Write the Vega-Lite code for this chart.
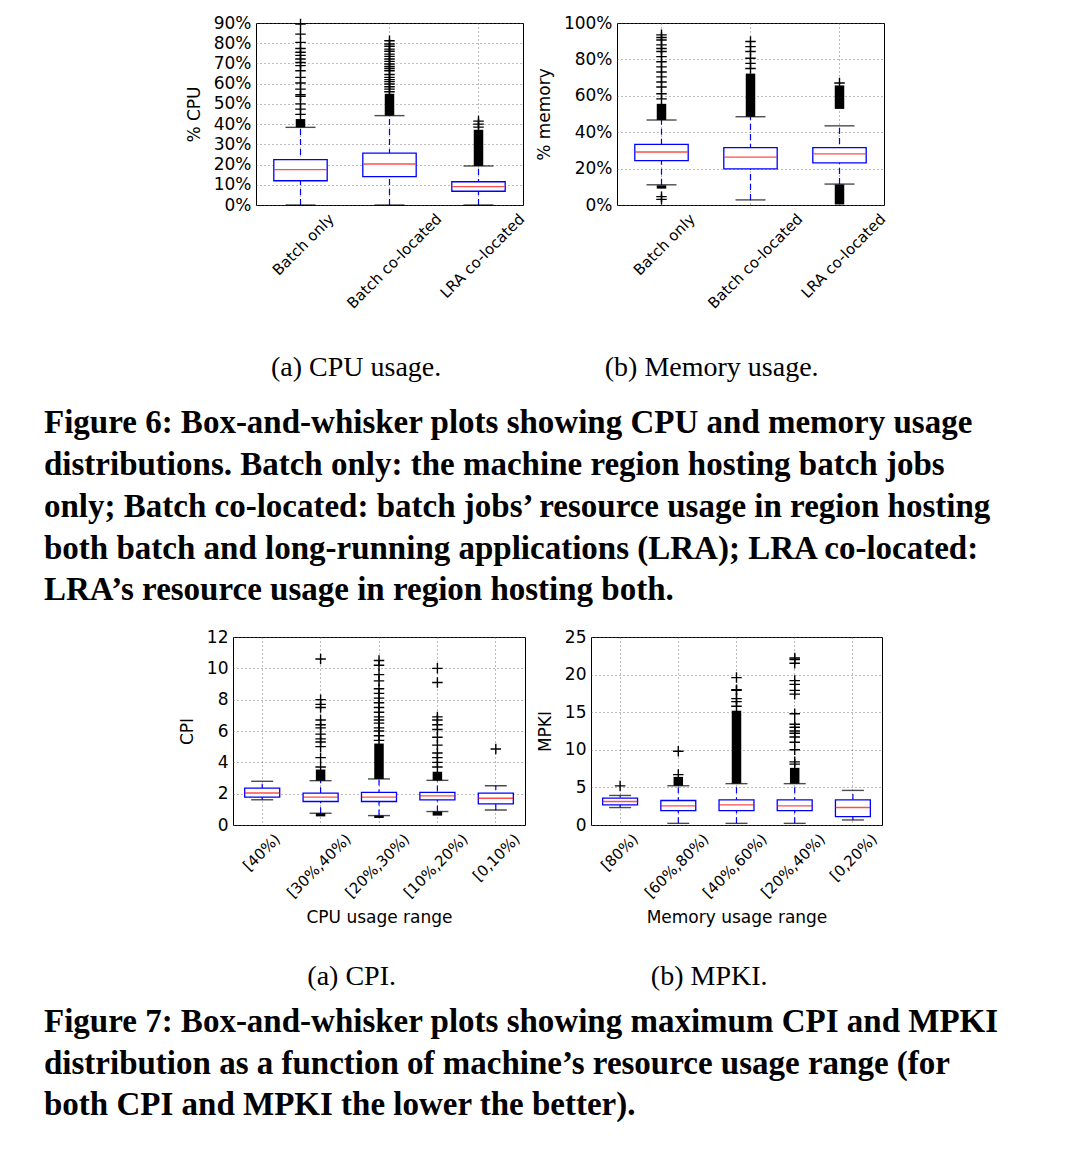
{
  "$schema": "https://vega.github.io/schema/vega-lite/v6.json",
  "background": "white",
  "padding": {"left": 44, "top": 13, "right": 8, "bottom": 10},
  "spacing": 8,
  "datasets": {
    "spacer": [{"t": ""}],
    "cpu_box": [
      {"cat": "Batch only", "lo": 0, "q1": 12.0, "med": 17.5, "q3": 22.4, "hi": 38.4},
      {"cat": "Batch co-located", "lo": 0, "q1": 14.0, "med": 20.3, "q3": 25.7, "hi": 44.2},
      {"cat": "LRA co-located", "lo": 0, "q1": 6.8, "med": 9.1, "q3": 11.5, "hi": 19.3}
    ],
    "cpu_dense": [
      {"cat": "Batch only", "a": 38.4, "b": 42.5},
      {"cat": "Batch co-located", "a": 44.2, "b": 55.0},
      {"cat": "LRA co-located", "a": 19.3, "b": 37.2}
    ],
    "cpu_out": [
      {"cat": "Batch only", "v": 44.8}, {"cat": "Batch only", "v": 47.4}, {"cat": "Batch only", "v": 50.0},
      {"cat": "Batch only", "v": 53.7}, {"cat": "Batch only", "v": 54.5}, {"cat": "Batch only", "v": 57.3},
      {"cat": "Batch only", "v": 60.3}, {"cat": "Batch only", "v": 63.1}, {"cat": "Batch only", "v": 66.4},
      {"cat": "Batch only", "v": 68.9}, {"cat": "Batch only", "v": 70.5}, {"cat": "Batch only", "v": 72.2},
      {"cat": "Batch only", "v": 74.0}, {"cat": "Batch only", "v": 75.5}, {"cat": "Batch only", "v": 77.4},
      {"cat": "Batch only", "v": 80.4}, {"cat": "Batch only", "v": 84.5}, {"cat": "Batch only", "v": 89.5},
      {"cat": "Batch co-located", "v": 56.0}, {"cat": "Batch co-located", "v": 57.3}, {"cat": "Batch co-located", "v": 58.5},
      {"cat": "Batch co-located", "v": 59.8}, {"cat": "Batch co-located", "v": 61.0}, {"cat": "Batch co-located", "v": 62.0},
      {"cat": "Batch co-located", "v": 63.1}, {"cat": "Batch co-located", "v": 64.5}, {"cat": "Batch co-located", "v": 66.4},
      {"cat": "Batch co-located", "v": 67.5}, {"cat": "Batch co-located", "v": 68.5}, {"cat": "Batch co-located", "v": 69.7},
      {"cat": "Batch co-located", "v": 71.0}, {"cat": "Batch co-located", "v": 72.2}, {"cat": "Batch co-located", "v": 73.5},
      {"cat": "Batch co-located", "v": 74.6}, {"cat": "Batch co-located", "v": 76.0}, {"cat": "Batch co-located", "v": 77.1},
      {"cat": "Batch co-located", "v": 78.5}, {"cat": "Batch co-located", "v": 79.6}, {"cat": "Batch co-located", "v": 81.2},
      {"cat": "LRA co-located", "v": 38.5}, {"cat": "LRA co-located", "v": 40.0}, {"cat": "LRA co-located", "v": 41.5}
    ],
    "mem_box": [
      {"cat": "Batch only", "lo": 11.1, "q1": 24.4, "med": 29.1, "q3": 33.3, "hi": 46.7},
      {"cat": "Batch co-located", "lo": 2.8, "q1": 19.8, "med": 26.3, "q3": 31.5, "hi": 48.5},
      {"cat": "LRA co-located", "lo": 11.5, "q1": 23.1, "med": 28.1, "q3": 31.5, "hi": 43.5}
    ],
    "mem_dense": [
      {"cat": "Batch only", "a": 46.7, "b": 55.6},
      {"cat": "Batch only", "a": 9.0, "b": 10.8},
      {"cat": "Batch co-located", "a": 48.5, "b": 72.2},
      {"cat": "LRA co-located", "a": 52.8, "b": 65.7},
      {"cat": "LRA co-located", "a": 0.3, "b": 11.3}
    ],
    "mem_out": [
      {"cat": "Batch only", "v": 3.1}, {"cat": "Batch only", "v": 4.6}, {"cat": "Batch only", "v": 58.3},
      {"cat": "Batch only", "v": 61.1}, {"cat": "Batch only", "v": 64.8}, {"cat": "Batch only", "v": 67.6},
      {"cat": "Batch only", "v": 70.4}, {"cat": "Batch only", "v": 73.1}, {"cat": "Batch only", "v": 75.9},
      {"cat": "Batch only", "v": 78.7}, {"cat": "Batch only", "v": 81.5}, {"cat": "Batch only", "v": 84.3},
      {"cat": "Batch only", "v": 86.0}, {"cat": "Batch only", "v": 88.0}, {"cat": "Batch only", "v": 90.7},
      {"cat": "Batch only", "v": 92.0}, {"cat": "Batch only", "v": 93.5},
      {"cat": "Batch co-located", "v": 75.0}, {"cat": "Batch co-located", "v": 77.8}, {"cat": "Batch co-located", "v": 80.6},
      {"cat": "Batch co-located", "v": 84.3}, {"cat": "Batch co-located", "v": 87.0}, {"cat": "Batch co-located", "v": 89.8},
      {"cat": "LRA co-located", "v": 67.0}
    ],
    "cpi_box": [
      {"cat": "[40%)", "lo": 1.61, "q1": 1.78, "med": 2.04, "q3": 2.36, "hi": 2.79},
      {"cat": "[30%,40%)", "lo": 0.75, "q1": 1.5, "med": 1.78, "q3": 2.04, "hi": 2.83},
      {"cat": "[20%,30%)", "lo": 0.6, "q1": 1.5, "med": 1.78, "q3": 2.08, "hi": 2.94},
      {"cat": "[10%,20%)", "lo": 0.86, "q1": 1.6, "med": 1.86, "q3": 2.08, "hi": 2.85},
      {"cat": "[0,10%)", "lo": 0.96, "q1": 1.35, "med": 1.71, "q3": 2.04, "hi": 2.51}
    ],
    "cpi_dense": [
      {"cat": "[30%,40%)", "a": 2.83, "b": 3.54},
      {"cat": "[30%,40%)", "a": 0.55, "b": 0.75},
      {"cat": "[20%,30%)", "a": 2.94, "b": 5.2},
      {"cat": "[20%,30%)", "a": 0.45, "b": 0.6},
      {"cat": "[10%,20%)", "a": 2.85, "b": 3.4},
      {"cat": "[10%,20%)", "a": 0.6, "b": 0.86}
    ],
    "cpi_out": [
      {"cat": "[30%,40%)", "v": 3.7}, {"cat": "[30%,40%)", "v": 4.3}, {"cat": "[30%,40%)", "v": 5.0},
      {"cat": "[30%,40%)", "v": 5.3}, {"cat": "[30%,40%)", "v": 5.5}, {"cat": "[30%,40%)", "v": 5.8},
      {"cat": "[30%,40%)", "v": 6.2}, {"cat": "[30%,40%)", "v": 6.4}, {"cat": "[30%,40%)", "v": 6.7},
      {"cat": "[30%,40%)", "v": 7.5}, {"cat": "[30%,40%)", "v": 7.7}, {"cat": "[30%,40%)", "v": 8.0},
      {"cat": "[30%,40%)", "v": 10.6},
      {"cat": "[20%,30%)", "v": 5.4}, {"cat": "[20%,30%)", "v": 5.7}, {"cat": "[20%,30%)", "v": 6.0},
      {"cat": "[20%,30%)", "v": 6.2}, {"cat": "[20%,30%)", "v": 6.5}, {"cat": "[20%,30%)", "v": 6.7},
      {"cat": "[20%,30%)", "v": 6.9}, {"cat": "[20%,30%)", "v": 7.2}, {"cat": "[20%,30%)", "v": 7.5},
      {"cat": "[20%,30%)", "v": 7.8}, {"cat": "[20%,30%)", "v": 8.1}, {"cat": "[20%,30%)", "v": 8.4},
      {"cat": "[20%,30%)", "v": 8.7}, {"cat": "[20%,30%)", "v": 9.2}, {"cat": "[20%,30%)", "v": 9.6},
      {"cat": "[20%,30%)", "v": 10.2}, {"cat": "[20%,30%)", "v": 10.5},
      {"cat": "[10%,20%)", "v": 3.7}, {"cat": "[10%,20%)", "v": 4.0}, {"cat": "[10%,20%)", "v": 4.3},
      {"cat": "[10%,20%)", "v": 4.6}, {"cat": "[10%,20%)", "v": 5.1}, {"cat": "[10%,20%)", "v": 5.6},
      {"cat": "[10%,20%)", "v": 6.1}, {"cat": "[10%,20%)", "v": 6.4}, {"cat": "[10%,20%)", "v": 6.7},
      {"cat": "[10%,20%)", "v": 6.9}, {"cat": "[10%,20%)", "v": 9.1}, {"cat": "[10%,20%)", "v": 10.0},
      {"cat": "[0,10%)", "v": 4.85}
    ],
    "mpki_box": [
      {"cat": "[80%)", "lo": 2.32, "q1": 2.68, "med": 3.13, "q3": 3.57, "hi": 3.93},
      {"cat": "[60%,80%)", "lo": 0.22, "q1": 1.92, "med": 2.54, "q3": 3.26, "hi": 5.22},
      {"cat": "[40%,60%)", "lo": 0.22, "q1": 1.92, "med": 2.68, "q3": 3.35, "hi": 5.5},
      {"cat": "[20%,40%)", "lo": 0.22, "q1": 1.92, "med": 2.54, "q3": 3.35, "hi": 5.5},
      {"cat": "[0,20%)", "lo": 0.67, "q1": 1.12, "med": 2.32, "q3": 3.35, "hi": 4.6}
    ],
    "mpki_dense": [
      {"cat": "[60%,80%)", "a": 5.22, "b": 6.4},
      {"cat": "[40%,60%)", "a": 5.5, "b": 15.2},
      {"cat": "[20%,40%)", "a": 5.5, "b": 7.6}
    ],
    "mpki_out": [
      {"cat": "[80%)", "v": 5.2},
      {"cat": "[60%,80%)", "v": 6.7}, {"cat": "[60%,80%)", "v": 9.8},
      {"cat": "[40%,60%)", "v": 15.8}, {"cat": "[40%,60%)", "v": 16.4}, {"cat": "[40%,60%)", "v": 16.8},
      {"cat": "[40%,60%)", "v": 17.9}, {"cat": "[40%,60%)", "v": 18.0}, {"cat": "[40%,60%)", "v": 19.6},
      {"cat": "[20%,40%)", "v": 8.1}, {"cat": "[20%,40%)", "v": 8.4}, {"cat": "[20%,40%)", "v": 10.0},
      {"cat": "[20%,40%)", "v": 11.0}, {"cat": "[20%,40%)", "v": 11.7}, {"cat": "[20%,40%)", "v": 12.2},
      {"cat": "[20%,40%)", "v": 12.5}, {"cat": "[20%,40%)", "v": 13.0}, {"cat": "[20%,40%)", "v": 13.4},
      {"cat": "[20%,40%)", "v": 14.8}, {"cat": "[20%,40%)", "v": 17.4}, {"cat": "[20%,40%)", "v": 17.9},
      {"cat": "[20%,40%)", "v": 18.7}, {"cat": "[20%,40%)", "v": 19.2}, {"cat": "[20%,40%)", "v": 21.5},
      {"cat": "[20%,40%)", "v": 22.0}, {"cat": "[20%,40%)", "v": 22.2}
    ]
  },
  "vconcat": [
    {
      "spacing": 24,
      "vconcat": [
        {
          "spacing": 6,
          "hconcat": [
            {
              "width": 134, "height": 1,
              "view": {"stroke": null},
              "data": {"name": "spacer"},
              "mark": {"type": "text"},
              "encoding": {"text": {"field": "t", "type": "nominal"}}
            },
            {
              "width": 267, "height": 182,
              "title": {"text": "(a)  CPU usage.", "orient": "bottom", "anchor": "middle", "frame": "bounds", "offset": 43},
              "layer": [
                {"data": {"name": "cpu_box"}, "mark": {"type": "rule", "color": "blue", "strokeDash": [6, 4], "strokeWidth": 1.2},
                 "encoding": {
                   "x": {"field": "cat", "type": "nominal", "sort": ["Batch only", "Batch co-located", "LRA co-located"], "scale": {"paddingInner": 0.4, "paddingOuter": 0.2}, "title": null,
                         "axis": {"labelOffset": {"expr": "length(datum.label)*3.1-5"}}},
                   "y": {"field": "lo", "type": "quantitative", "scale": {"domain": [0, 90], "nice": false}, "title": "% CPU",
                         "axis": {"values": [0, 10, 20, 30, 40, 50, 60, 70, 80, 90], "tickCount": 10, "labelExpr": "datum.value + '%'"}},
                   "y2": {"field": "hi"}}},
                {"data": {"name": "cpu_dense"}, "mark": {"type": "bar", "color": "black", "width": 9.5},
                 "encoding": {"x": {"field": "cat", "type": "nominal", "sort": ["Batch only", "Batch co-located", "LRA co-located"]},
                   "y": {"field": "a", "type": "quantitative", "title": "% CPU", "axis": {"values": [0, 10, 20, 30, 40, 50, 60, 70, 80, 90], "tickCount": 10, "labelExpr": "datum.value + '%'"}}, "y2": {"field": "b"}}},
                {"data": {"name": "cpu_out"}, "mark": {"type": "point", "shape": "M-1,0H1M0,-1V1", "filled": false, "stroke": "black", "strokeWidth": 1.4, "size": 110, "opacity": 1},
                 "encoding": {"x": {"field": "cat", "type": "nominal", "sort": ["Batch only", "Batch co-located", "LRA co-located"]},
                   "y": {"field": "v", "type": "quantitative", "title": "% CPU", "axis": {"values": [0, 10, 20, 30, 40, 50, 60, 70, 80, 90], "tickCount": 10, "labelExpr": "datum.value + '%'"}}}},
                {"data": {"name": "cpu_box"}, "mark": {"type": "bar", "fill": "white", "stroke": "blue", "strokeWidth": 1.3},
                 "encoding": {"x": {"field": "cat", "type": "nominal", "sort": ["Batch only", "Batch co-located", "LRA co-located"]},
                   "y": {"field": "q1", "type": "quantitative", "title": "% CPU", "axis": {"values": [0, 10, 20, 30, 40, 50, 60, 70, 80, 90], "tickCount": 10, "labelExpr": "datum.value + '%'"}}, "y2": {"field": "q3"}}},
                {"data": {"name": "cpu_box"}, "mark": {"type": "tick", "color": "red", "size": 52, "thickness": 1.4},
                 "encoding": {"x": {"field": "cat", "type": "nominal", "sort": ["Batch only", "Batch co-located", "LRA co-located"]},
                   "y": {"field": "med", "type": "quantitative", "title": "% CPU", "axis": {"values": [0, 10, 20, 30, 40, 50, 60, 70, 80, 90], "tickCount": 10, "labelExpr": "datum.value + '%'"}}}},
                {"data": {"name": "cpu_box"}, "mark": {"type": "tick", "color": "black", "size": 30, "thickness": 1.4},
                 "encoding": {"x": {"field": "cat", "type": "nominal", "sort": ["Batch only", "Batch co-located", "LRA co-located"]},
                   "y": {"field": "lo", "type": "quantitative", "title": "% CPU", "axis": {"values": [0, 10, 20, 30, 40, 50, 60, 70, 80, 90], "tickCount": 10, "labelExpr": "datum.value + '%'"}}}},
                {"data": {"name": "cpu_box"}, "mark": {"type": "tick", "color": "black", "size": 30, "thickness": 1.4},
                 "encoding": {"x": {"field": "cat", "type": "nominal", "sort": ["Batch only", "Batch co-located", "LRA co-located"]},
                   "y": {"field": "hi", "type": "quantitative", "title": "% CPU", "axis": {"values": [0, 10, 20, 30, 40, 50, 60, 70, 80, 90], "tickCount": 10, "labelExpr": "datum.value + '%'"}}}}
              ]
            },
            {
              "width": 267, "height": 182,
              "title": {"text": "(b)  Memory usage.", "orient": "bottom", "anchor": "middle", "frame": "bounds", "offset": 43},
              "layer": [
                {"data": {"name": "mem_box"}, "mark": {"type": "rule", "color": "blue", "strokeDash": [6, 4], "strokeWidth": 1.2},
                 "encoding": {
                   "x": {"field": "cat", "type": "nominal", "sort": ["Batch only", "Batch co-located", "LRA co-located"], "scale": {"paddingInner": 0.4, "paddingOuter": 0.2}, "title": null,
                         "axis": {"labelOffset": {"expr": "length(datum.label)*3.1-5"}}},
                   "y": {"field": "lo", "type": "quantitative", "scale": {"domain": [0, 100], "nice": false}, "title": "% memory",
                         "axis": {"values": [0, 20, 40, 60, 80, 100], "tickCount": 6, "labelExpr": "datum.value + '%'"}},
                   "y2": {"field": "hi"}}},
                {"data": {"name": "mem_dense"}, "mark": {"type": "bar", "color": "black", "width": 9.5},
                 "encoding": {"x": {"field": "cat", "type": "nominal", "sort": ["Batch only", "Batch co-located", "LRA co-located"]},
                   "y": {"field": "a", "type": "quantitative", "title": "% memory", "axis": {"values": [0, 20, 40, 60, 80, 100], "tickCount": 6, "labelExpr": "datum.value + '%'"}}, "y2": {"field": "b"}}},
                {"data": {"name": "mem_out"}, "mark": {"type": "point", "shape": "M-1,0H1M0,-1V1", "filled": false, "stroke": "black", "strokeWidth": 1.4, "size": 110, "opacity": 1},
                 "encoding": {"x": {"field": "cat", "type": "nominal", "sort": ["Batch only", "Batch co-located", "LRA co-located"]},
                   "y": {"field": "v", "type": "quantitative", "title": "% memory", "axis": {"values": [0, 20, 40, 60, 80, 100], "tickCount": 6, "labelExpr": "datum.value + '%'"}}}},
                {"data": {"name": "mem_box"}, "mark": {"type": "bar", "fill": "white", "stroke": "blue", "strokeWidth": 1.3},
                 "encoding": {"x": {"field": "cat", "type": "nominal", "sort": ["Batch only", "Batch co-located", "LRA co-located"]},
                   "y": {"field": "q1", "type": "quantitative", "title": "% memory", "axis": {"values": [0, 20, 40, 60, 80, 100], "tickCount": 6, "labelExpr": "datum.value + '%'"}}, "y2": {"field": "q3"}}},
                {"data": {"name": "mem_box"}, "mark": {"type": "tick", "color": "red", "size": 52, "thickness": 1.4},
                 "encoding": {"x": {"field": "cat", "type": "nominal", "sort": ["Batch only", "Batch co-located", "LRA co-located"]},
                   "y": {"field": "med", "type": "quantitative", "title": "% memory", "axis": {"values": [0, 20, 40, 60, 80, 100], "tickCount": 6, "labelExpr": "datum.value + '%'"}}}},
                {"data": {"name": "mem_box"}, "mark": {"type": "tick", "color": "black", "size": 30, "thickness": 1.4},
                 "encoding": {"x": {"field": "cat", "type": "nominal", "sort": ["Batch only", "Batch co-located", "LRA co-located"]},
                   "y": {"field": "lo", "type": "quantitative", "title": "% memory", "axis": {"values": [0, 20, 40, 60, 80, 100], "tickCount": 6, "labelExpr": "datum.value + '%'"}}}},
                {"data": {"name": "mem_box"}, "mark": {"type": "tick", "color": "black", "size": 30, "thickness": 1.4},
                 "encoding": {"x": {"field": "cat", "type": "nominal", "sort": ["Batch only", "Batch co-located", "LRA co-located"]},
                   "y": {"field": "hi", "type": "quantitative", "title": "% memory", "axis": {"values": [0, 20, 40, 60, 80, 100], "tickCount": 6, "labelExpr": "datum.value + '%'"}}}}
              ]
            }
          ]
        },
        {
          "width": 984, "height": 1,
          "view": {"stroke": null},
          "data": {"name": "spacer"},
          "mark": {"type": "text"},
          "encoding": {"text": {"field": "t", "type": "nominal"}},
          "title": {
            "text": [
              "Figure 6: Box-and-whisker plots showing CPU and memory usage",
              "distributions. Batch  only: the machine region hosting batch jobs",
              "only; Batch co-located: batch jobs’ resource usage in region hosting",
              "both batch and long-running applications (LRA); LRA  co-located:",
              "LRA’s resource usage in region hosting both."
            ],
            "orient": "top", "anchor": "start", "frame": "group", "offset": 0,
            "font": "Liberation Serif", "fontSize": 33, "fontWeight": "bold", "lineHeight": 41.8
          }
        }
      ]
    },
    {
      "spacing": 13,
      "vconcat": [
        {
          "spacing": 9,
          "hconcat": [
            {
              "width": 124, "height": 1,
              "view": {"stroke": null},
              "data": {"name": "spacer"},
              "mark": {"type": "text"},
              "encoding": {"text": {"field": "t", "type": "nominal"}}
            },
            {
              "width": 292, "height": 188,
              "title": {"text": "(a)  CPI.", "orient": "bottom", "anchor": "middle", "frame": "bounds", "offset": 38},
              "layer": [
                {"data": {"name": "cpi_box"}, "mark": {"type": "rule", "color": "blue", "strokeDash": [6, 4], "strokeWidth": 1.2},
                 "encoding": {
                   "x": {"field": "cat", "type": "nominal", "sort": ["[40%)", "[30%,40%)", "[20%,30%)", "[10%,20%)", "[0,10%)"], "scale": {"paddingInner": 0.4, "paddingOuter": 0.2}, "title": "CPU usage range",
                         "axis": {"labelOffset": {"expr": "length(datum.label)*3.1-5"}}},
                   "y": {"field": "lo", "type": "quantitative", "scale": {"domain": [0, 12], "nice": false}, "title": "CPI",
                         "axis": {"values": [0, 2, 4, 6, 8, 10, 12], "tickCount": 7}},
                   "y2": {"field": "hi"}}},
                {"data": {"name": "cpi_dense"}, "mark": {"type": "bar", "color": "black", "width": 9.5},
                 "encoding": {"x": {"field": "cat", "type": "nominal", "sort": ["[40%)", "[30%,40%)", "[20%,30%)", "[10%,20%)", "[0,10%)"]},
                   "y": {"field": "a", "type": "quantitative", "title": "CPI", "axis": {"values": [0, 2, 4, 6, 8, 10, 12], "tickCount": 7}}, "y2": {"field": "b"}}},
                {"data": {"name": "cpi_out"}, "mark": {"type": "point", "shape": "M-1,0H1M0,-1V1", "filled": false, "stroke": "black", "strokeWidth": 1.4, "size": 110, "opacity": 1},
                 "encoding": {"x": {"field": "cat", "type": "nominal", "sort": ["[40%)", "[30%,40%)", "[20%,30%)", "[10%,20%)", "[0,10%)"]},
                   "y": {"field": "v", "type": "quantitative", "title": "CPI", "axis": {"values": [0, 2, 4, 6, 8, 10, 12], "tickCount": 7}}}},
                {"data": {"name": "cpi_box"}, "mark": {"type": "bar", "fill": "white", "stroke": "blue", "strokeWidth": 1.3},
                 "encoding": {"x": {"field": "cat", "type": "nominal", "sort": ["[40%)", "[30%,40%)", "[20%,30%)", "[10%,20%)", "[0,10%)"]},
                   "y": {"field": "q1", "type": "quantitative", "title": "CPI", "axis": {"values": [0, 2, 4, 6, 8, 10, 12], "tickCount": 7}}, "y2": {"field": "q3"}}},
                {"data": {"name": "cpi_box"}, "mark": {"type": "tick", "color": "red", "size": 35, "thickness": 1.4},
                 "encoding": {"x": {"field": "cat", "type": "nominal", "sort": ["[40%)", "[30%,40%)", "[20%,30%)", "[10%,20%)", "[0,10%)"]},
                   "y": {"field": "med", "type": "quantitative", "title": "CPI", "axis": {"values": [0, 2, 4, 6, 8, 10, 12], "tickCount": 7}}}},
                {"data": {"name": "cpi_box"}, "mark": {"type": "tick", "color": "black", "size": 22, "thickness": 1.4},
                 "encoding": {"x": {"field": "cat", "type": "nominal", "sort": ["[40%)", "[30%,40%)", "[20%,30%)", "[10%,20%)", "[0,10%)"]},
                   "y": {"field": "lo", "type": "quantitative", "title": "CPI", "axis": {"values": [0, 2, 4, 6, 8, 10, 12], "tickCount": 7}}}},
                {"data": {"name": "cpi_box"}, "mark": {"type": "tick", "color": "black", "size": 22, "thickness": 1.4},
                 "encoding": {"x": {"field": "cat", "type": "nominal", "sort": ["[40%)", "[30%,40%)", "[20%,30%)", "[10%,20%)", "[0,10%)"]},
                   "y": {"field": "hi", "type": "quantitative", "title": "CPI", "axis": {"values": [0, 2, 4, 6, 8, 10, 12], "tickCount": 7}}}}
              ]
            },
            {
              "width": 291, "height": 188,
              "title": {"text": "(b)  MPKI.", "orient": "bottom", "anchor": "middle", "frame": "bounds", "offset": 38},
              "layer": [
                {"data": {"name": "mpki_box"}, "mark": {"type": "rule", "color": "blue", "strokeDash": [6, 4], "strokeWidth": 1.2},
                 "encoding": {
                   "x": {"field": "cat", "type": "nominal", "sort": ["[80%)", "[60%,80%)", "[40%,60%)", "[20%,40%)", "[0,20%)"], "scale": {"paddingInner": 0.4, "paddingOuter": 0.2}, "title": "Memory usage range",
                         "axis": {"labelOffset": {"expr": "length(datum.label)*3.1-5"}}},
                   "y": {"field": "lo", "type": "quantitative", "scale": {"domain": [0, 25], "nice": false}, "title": "MPKI",
                         "axis": {"values": [0, 5, 10, 15, 20, 25], "tickCount": 6}},
                   "y2": {"field": "hi"}}},
                {"data": {"name": "mpki_dense"}, "mark": {"type": "bar", "color": "black", "width": 9.5},
                 "encoding": {"x": {"field": "cat", "type": "nominal", "sort": ["[80%)", "[60%,80%)", "[40%,60%)", "[20%,40%)", "[0,20%)"]},
                   "y": {"field": "a", "type": "quantitative", "title": "MPKI", "axis": {"values": [0, 5, 10, 15, 20, 25], "tickCount": 6}}, "y2": {"field": "b"}}},
                {"data": {"name": "mpki_out"}, "mark": {"type": "point", "shape": "M-1,0H1M0,-1V1", "filled": false, "stroke": "black", "strokeWidth": 1.4, "size": 110, "opacity": 1},
                 "encoding": {"x": {"field": "cat", "type": "nominal", "sort": ["[80%)", "[60%,80%)", "[40%,60%)", "[20%,40%)", "[0,20%)"]},
                   "y": {"field": "v", "type": "quantitative", "title": "MPKI", "axis": {"values": [0, 5, 10, 15, 20, 25], "tickCount": 6}}}},
                {"data": {"name": "mpki_box"}, "mark": {"type": "bar", "fill": "white", "stroke": "blue", "strokeWidth": 1.3},
                 "encoding": {"x": {"field": "cat", "type": "nominal", "sort": ["[80%)", "[60%,80%)", "[40%,60%)", "[20%,40%)", "[0,20%)"]},
                   "y": {"field": "q1", "type": "quantitative", "title": "MPKI", "axis": {"values": [0, 5, 10, 15, 20, 25], "tickCount": 6}}, "y2": {"field": "q3"}}},
                {"data": {"name": "mpki_box"}, "mark": {"type": "tick", "color": "red", "size": 35, "thickness": 1.4},
                 "encoding": {"x": {"field": "cat", "type": "nominal", "sort": ["[80%)", "[60%,80%)", "[40%,60%)", "[20%,40%)", "[0,20%)"]},
                   "y": {"field": "med", "type": "quantitative", "title": "MPKI", "axis": {"values": [0, 5, 10, 15, 20, 25], "tickCount": 6}}}},
                {"data": {"name": "mpki_box"}, "mark": {"type": "tick", "color": "black", "size": 22, "thickness": 1.4},
                 "encoding": {"x": {"field": "cat", "type": "nominal", "sort": ["[80%)", "[60%,80%)", "[40%,60%)", "[20%,40%)", "[0,20%)"]},
                   "y": {"field": "lo", "type": "quantitative", "title": "MPKI", "axis": {"values": [0, 5, 10, 15, 20, 25], "tickCount": 6}}}},
                {"data": {"name": "mpki_box"}, "mark": {"type": "tick", "color": "black", "size": 22, "thickness": 1.4},
                 "encoding": {"x": {"field": "cat", "type": "nominal", "sort": ["[80%)", "[60%,80%)", "[40%,60%)", "[20%,40%)", "[0,20%)"]},
                   "y": {"field": "hi", "type": "quantitative", "title": "MPKI", "axis": {"values": [0, 5, 10, 15, 20, 25], "tickCount": 6}}}}
              ]
            }
          ]
        },
        {
          "width": 984, "height": 1,
          "view": {"stroke": null},
          "data": {"name": "spacer"},
          "mark": {"type": "text"},
          "encoding": {"text": {"field": "t", "type": "nominal"}},
          "title": {
            "text": [
              "Figure 7: Box-and-whisker plots showing maximum CPI and MPKI",
              "distribution as a function of machine’s resource usage range (for",
              "both CPI and MPKI the lower the better)."
            ],
            "orient": "top", "anchor": "start", "frame": "group", "offset": 0,
            "font": "Liberation Serif", "fontSize": 33, "fontWeight": "bold", "lineHeight": 41.8
          }
        }
      ]
    }
  ],
  "config": {
    "font": "DejaVu Sans",
    "view": {"stroke": "black", "strokeWidth": 1},
    "axis": {
      "domain": false, "ticks": false, "labelPadding": 5, "labelOverlap": false,
      "labelFont": "DejaVu Sans", "labelFontSize": 17, "labelColor": "black",
      "titleFont": "DejaVu Sans", "titleFontSize": 17, "titleFontWeight": "normal", "titleColor": "black", "titlePadding": 10,
      "grid": true, "gridColor": "#555555", "gridDash": [1, 3], "gridWidth": 0.8
    },
    "axisX": {"labelAngle": -45, "labelAlign": "right", "labelBaseline": "top", "labelFontSize": 15, "labelPadding": 6, "bandPosition": 0.5, "titlePadding": 9},
    "title": {"font": "Liberation Serif", "fontSize": 28, "fontWeight": "normal", "color": "black"}
  }
}
